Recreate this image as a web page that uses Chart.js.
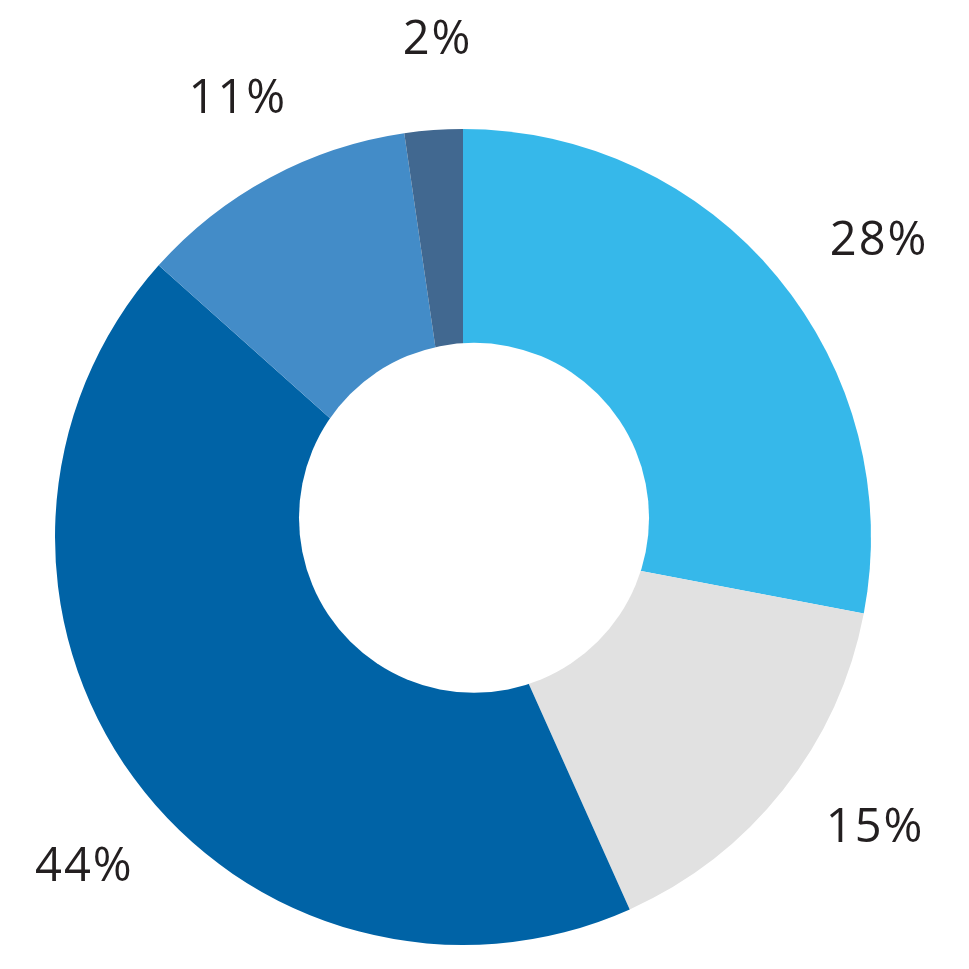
<!DOCTYPE html>
<html>
<head>
<meta charset="utf-8">
<script src="https://cdn.jsdelivr.net/npm/chart.js@4/dist/chart.umd.min.js"></script>
<style>
  html, body { margin: 0; padding: 0; background: #fff; }
  #wrap { width: 969px; height: 969px; }
</style>
</head>
<body>
<div id="wrap"><canvas id="donut" width="969" height="969"></canvas></div>
<script>
var categories = ['A', 'B', 'C', 'D', 'E'];
// slice sizes (labels are the rounded figures)
var values = [28.0, 15.3, 43.3, 11.1, 2.3];
var valueLabels = ['28%', '15%', '44%', '11%', '2%'];
var sliceColors = ['#36b8ea', '#e1e1e1', '#0063a6', '#438cc8', '#416890'];

// small nudges so labels sit where the original put them
var labelNudge = [[27, 25], [16, -24], [29, 30], [14, 5], [11, 5]];

// white hole, slightly off-centre like the original
var holePlugin = {
    id: 'hole',
    afterDatasetsDraw: function(chart) {
        var arc = chart.getDatasetMeta(0).data[0];
        var r = arc.outerRadius;
        var ctx = chart.ctx;
        ctx.save();
        ctx.fillStyle = '#ffffff';
        ctx.beginPath();
        ctx.arc(arc.x + r * 0.027, arc.y - r * 0.047, r * 0.429, 0, Math.PI * 2);
        ctx.fill();
        ctx.restore();
    }
};

var labelPlugin = {
    id: 'outLabels',
    afterDraw: function(chart) {
        var ctx = chart.ctx;
        var meta = chart.getDatasetMeta(0);
        ctx.save();
        ctx.font = '47px "Open Sans"';
        ctx.fillStyle = '#231f20';
        ctx.textAlign = 'center';
        ctx.textBaseline = 'middle';
        if ('letterSpacing' in ctx) ctx.letterSpacing = '2px';
        meta.data.forEach(function(arc, i) {
            var mid = (arc.startAngle + arc.endAngle) / 2;
            var rr = arc.outerRadius + 97;
            var x = arc.x + Math.cos(mid) * rr + labelNudge[i][0];
            var y = arc.y + Math.sin(mid) * rr + labelNudge[i][1];
            ctx.fillText(valueLabels[i], x, y + 2);
        });
        ctx.restore();
    }
};

new Chart(document.getElementById('donut').getContext('2d'), {
    type: 'doughnut',
    data: {
        labels: categories,
        datasets: [{
            data: values,
            backgroundColor: sliceColors,
            borderWidth: 0
        }]
    },
    options: {
        responsive: false,
        animation: false,
        cutout: 0,
        layout: { padding: { left: 55, right: 98, top: 129, bottom: 24 } },
        plugins: {
            legend: { display: false },
            tooltip: { enabled: false }
        }
    },
    plugins: [holePlugin, labelPlugin]
});
</script>
</body>
</html>
